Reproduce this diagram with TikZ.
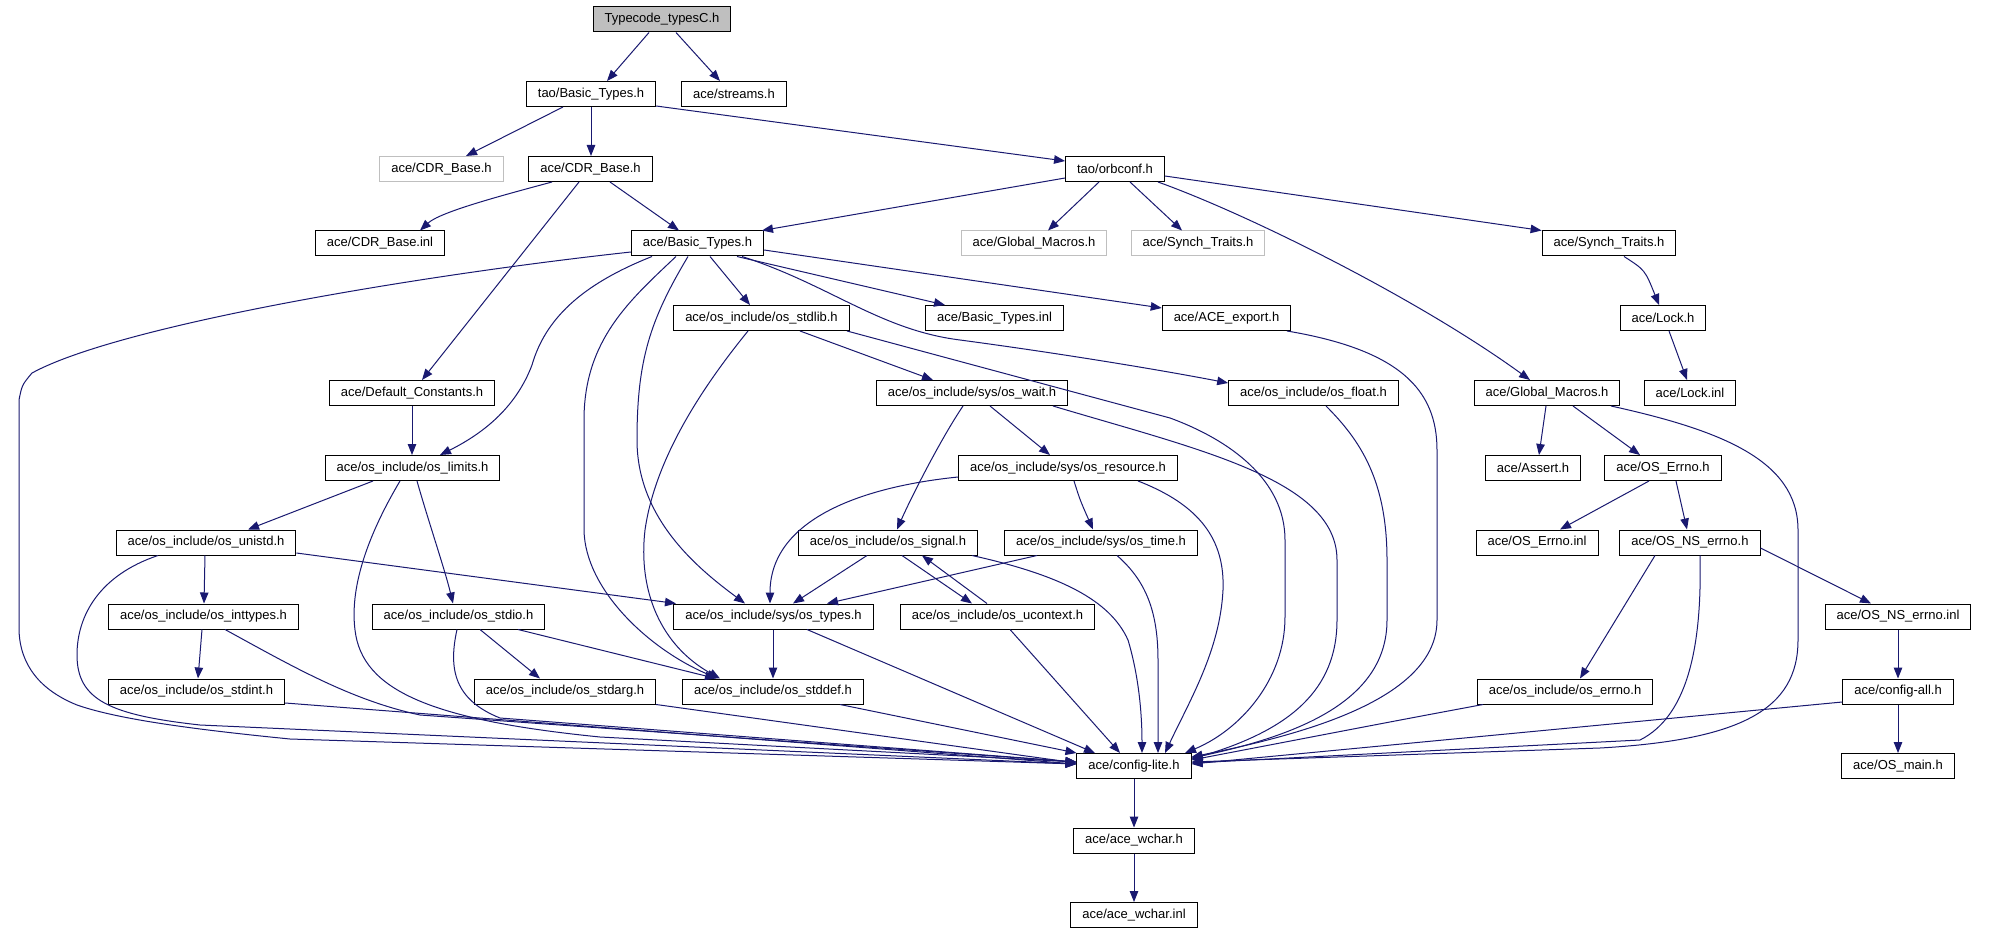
\documentclass[tikz,border=0pt]{standalone}
\usepackage{fontspec}
\setmainfont{Liberation Sans}
\usetikzlibrary{arrows.meta}
\definecolor{edgec}{HTML}{191970}
\definecolor{grayc}{HTML}{BFBFBF}
\begin{document}
\begin{tikzpicture}[x=1pt,y=-1pt,
  box/.style={draw=black,line width=1pt,inner xsep=11.5pt,inner ysep=0pt,minimum height=25pt,font=\fontsize{13}{15}\selectfont,anchor=center},
  gbox/.style={box,draw=grayc},
  rootbox/.style={box,fill=grayc},
  e/.style={draw=edgec,line width=1pt,-{Triangle[length=11pt,width=8.5pt]}}]
\useasboundingbox[fill=white] (0,0) rectangle (1989,933);
% row 0
\node[rootbox] (top) at (662,19.5) {Typecode\_typesC.h};
% row 1
\node[box] (taoBT) at (591,94) {tao/Basic\_Types.h};
\node[box] (streams) at (734,94) {ace/streams.h};
% row 2
\node[gbox] (cdrG) at (441.5,169) {ace/CDR\_Base.h};
\node[box] (cdr) at (590.5,169) {ace/CDR\_Base.h};
\node[box] (orb) at (1115,169) {tao/orbconf.h};
% row 3
\node[box] (cdrinl) at (380,243.5) {ace/CDR\_Base.inl};
\node[box] (bt) at (697.5,243.5) {ace/Basic\_Types.h};
\node[gbox] (gmG) at (1034,243.5) {ace/Global\_Macros.h};
\node[gbox] (stG) at (1198,243.5) {ace/Synch\_Traits.h};
\node[box] (st) at (1609,243.5) {ace/Synch\_Traits.h};
% row 4
\node[box] (stdlib) at (761.5,318) {ace/os\_include/os\_stdlib.h};
\node[box] (btinl) at (994.5,318) {ace/Basic\_Types.inl};
\node[box] (export) at (1226.5,318) {ace/ACE\_export.h};
\node[box] (lock) at (1663,318) {ace/Lock.h};
% row 5
\node[box] (defc) at (412,393) {ace/Default\_Constants.h};
\node[box] (wait) at (972,393) {ace/os\_include/sys/os\_wait.h};
\node[box] (float) at (1313.5,393) {ace/os\_include/os\_float.h};
\node[box] (gm) at (1547,393) {ace/Global\_Macros.h};
\node[box] (lockinl) at (1690,393) {ace/Lock.inl};
% row 6
\node[box] (limits) at (412.5,468) {ace/os\_include/os\_limits.h};
\node[box] (resource) at (1068,468) {ace/os\_include/sys/os\_resource.h};
\node[box] (assert) at (1533,468) {ace/Assert.h};
\node[box] (errno) at (1663,468) {ace/OS\_Errno.h};
% row 7
\node[box] (unistd) at (206,542.5) {ace/os\_include/os\_unistd.h};
\node[box] (signal) at (888,542.5) {ace/os\_include/os\_signal.h};
\node[box] (time) at (1101,542.5) {ace/os\_include/sys/os\_time.h};
\node[box] (errnoinl) at (1537,542.5) {ace/OS\_Errno.inl};
\node[box] (nserrno) at (1690,542.5) {ace/OS\_NS\_errno.h};
% row 8
\node[box] (inttypes) at (203.5,616.5) {ace/os\_include/os\_inttypes.h};
\node[box] (stdio) at (458.5,616.5) {ace/os\_include/os\_stdio.h};
\node[box] (types) at (773.5,616.5) {ace/os\_include/sys/os\_types.h};
\node[box] (ucontext) at (997.5,616.5) {ace/os\_include/os\_ucontext.h};
\node[box] (nserrnoinl) at (1898,616.5) {ace/OS\_NS\_errno.inl};
% row 9
\node[box] (stdint) at (196.5,691.5) {ace/os\_include/os\_stdint.h};
\node[box] (stdarg) at (565,691.5) {ace/os\_include/os\_stdarg.h};
\node[box] (stddef) at (773,691.5) {ace/os\_include/os\_stddef.h};
\node[box] (oserrno) at (1565,691.5) {ace/os\_include/os\_errno.h};
\node[box] (configall) at (1898,691.5) {ace/config-all.h};
% row 10
\node[box] (lite) at (1134,766) {ace/config-lite.h};
\node[box] (osmain) at (1898,766) {ace/OS\_main.h};
% row 11, 12
\node[box] (wchar) at (1134,840.5) {ace/ace\_wchar.h};
\node[box] (wcharinl) at (1134,915) {ace/ace\_wchar.inl};

% ---- edges ----
\draw[e] (top.south -| 649,0) -- (taoBT.north -| 607,0);
\draw[e] (top.south -| 676,0) -- (streams.north -| 720,0);
\draw[e] (taoBT.south -| 563,0) -- (cdrG.north -| 466,0);
\draw[e] (taoBT.south -| 591,0) -- (cdr.north -| 591,0);
\draw[e] (taoBT.east |- 0,106) -- (orb.west |- 0,161);
\draw[e] (cdr.south -| 552,0) .. controls (500,196) and (440,212) .. (cdrinl.north -| 420,0);
\draw[e] (cdr.south -| 610,0) -- (bt.north -| 679,0);
\draw[e] (cdr.south -| 579,0) -- (defc.north -| 422,0);
\draw[e] (orb.west |- 0,178) -- (bt.north -| 762,0);
\draw[e] (orb.south -| 1099,0) -- (gmG.north -| 1048,0);
\draw[e] (orb.south -| 1130,0) -- (stG.north -| 1182,0);
\draw[e] (orb.east |- 0,176) -- (st.north west);
\draw[e] (orb.south -| 1158,0) .. controls (1250,215) and (1420,300) .. (gm.north -| 1530,0);
% Basic_Types
\draw[e] (bt.west |- 0,252) .. controls (420,275) and (120,325) .. (32,373)
   .. controls (22,385) .. (19,400) -- (19,630)
   .. controls (20,665) and (40,690) .. (77,705)
   .. controls (120,720) and (200,730) .. (290,739) -- (lite.west |- 0,764);
\draw[e] (bt.south -| 652,0) .. controls (580,285) and (545,320) .. (532,365)
   .. controls (515,410) and (480,435) .. (limits.north -| 440,0);
\draw[e] (bt.south -| 676,0) .. controls (630,300) and (584,340) .. (584,420) -- (584,530)
   .. controls (585,590) and (650,650) .. (stddef.north -| 718,0);
\draw[e] (bt.south -| 688,0) .. controls (650,320) and (637,360) .. (637,440)
   .. controls (637,520) and (700,570) .. (types.north -| 745,0);
\draw[e] (bt.south -| 710,0) -- (stdlib.north -| 750,0);
\draw[e] (bt.south -| 737,0) -- (btinl.north -| 945,0);
\draw[e] (bt.east |- 0,250) -- (export.west |- 0,308);
\draw[e] (bt.south -| 742,0) .. controls (830,285) and (880,330) .. (960,340)
   .. controls (1050,352) and (1150,368) .. (float.west |- 0,383);
% os_stdlib
\draw[e] (stdlib.south -| 748,0) .. controls (700,390) and (655,460) .. (645,530)
   .. controls (638,590) and (660,645) .. (stddef.north -| 720,0);
\draw[e] (stdlib.south -| 800,0) -- (wait.north -| 933,0);
\draw[e] (stdlib.south -| 847,0) -- (1170,418) .. controls (1230,440) and (1285,480) .. (1285,540)
   -- (1285,617) .. controls (1285,680) and (1240,730) .. (lite.north -| 1185,0);
% right side into config-lite
\draw[e] (export.south -| 1287,0) .. controls (1400,350) and (1437,390) .. (1437,450) -- (1437,620)
   .. controls (1437,700) and (1300,735) .. (lite.east |- 0,757);
\draw[e] (float.south -| 1326,0) .. controls (1360,440) and (1387,480) .. (1387,560) -- (1387,620)
   .. controls (1387,700) and (1300,735) .. (lite.east |- 0,758);
\draw[e] (wait.south -| 1053,0) .. controls (1200,450) and (1337,480) .. (1337,560) -- (1337,620)
   .. controls (1337,690) and (1290,730) .. (lite.east |- 0,759);
\draw[e] (resource.south -| 1138,0) .. controls (1200,505) and (1225,540) .. (1223,590)
   .. controls (1220,650) and (1190,700) .. (lite.north -| 1165,0);
\draw[e] (gm.south -| 1611,0) .. controls (1720,430) and (1798,460) .. (1798,530) -- (1798,640)
   .. controls (1798,710) and (1740,740) .. (1600,748) -- (lite.east |- 0,762);
\draw[e] (nserrno.south -| 1700,0) .. controls (1702,640) and (1690,715) .. (1640,740)
   -- (lite.east |- 0,763);
\draw[e] (oserrno.south -| 1483,0) .. controls (1400,720) .. (lite.east |- 0,760);
\draw[e] (configall.west |- 0,702) -- (lite.east |- 0,764);
\draw[e] (configall) -- (osmain);
\draw[e] (lite) -- (wchar);
\draw[e] (wchar) -- (wcharinl);
% Synch / Lock
\draw[e] (st.south -| 1624,0) .. controls (1645,270) .. (lock.north -| 1659,0);
\draw[e] (lock.south -| 1669,0) -- (lockinl.north -| 1687,0);
% Default constants
\draw[e] (defc.south -| 412,0) -- (limits.north -| 412,0);
% os_wait
\draw[e] (wait.south -| 990,0) -- (resource.north -| 1050,0);
\draw[e] (wait.south -| 963,0) .. controls (940,440) and (910,500) .. (signal.north -| 897,0);
% Global_Macros
\draw[e] (gm.south -| 1546,0) -- (assert.north -| 1539,0);
\draw[e] (gm.south -| 1573,0) -- (errno.north -| 1640,0);
% os_limits
\draw[e] (limits.south -| 373,0) -- (unistd.north -| 248,0);
\draw[e] (limits.south -| 417,0) .. controls (428,520) and (445,570) .. (stdio.north -| 453,0);
\draw[e] (limits.south -| 400,0) .. controls (365,540) and (350,590) .. (355,630)
   .. controls (362,690) and (430,720) .. (600,737) -- (lite.west |- 0,762);
% os_resource
\draw[e] (resource.south -| 1074,0) .. controls (1080,500) .. (time.north -| 1093,0);
\draw[e] (resource.west |- 0,477) .. controls (860,487) and (770,520) .. (types.north -| 770,0);
% os_unistd
\draw[e] (unistd.south -| 205,0) -- (inttypes.north -| 204,0);
\draw[e] (unistd.east |- 0,553) -- (types.north -| 676,0);
\draw[e] (unistd.south -| 158,0) .. controls (100,575) and (77,615) .. (77,655)
   .. controls (77,700) and (110,715) .. (200,725) -- (lite.west |- 0,764);
% os_inttypes
\draw[e] (inttypes.south -| 202,0) -- (stdint.north -| 198,0);
\draw[e] (inttypes.south -| 225,0) .. controls (290,665) and (350,700) .. (420,715) -- (lite.west |- 0,762);
% os_stdio
\draw[e] (stdio.south -| 480,0) -- (stdarg.north -| 540,0);
\draw[e] (stdio.south -| 518,0) -- (stddef.north -| 716,0);
\draw[e] (stdio.south -| 457,0) .. controls (448,670) and (455,700) .. (500,718) -- (lite.west |- 0,762);
% os_signal
\draw[e] (signal.south -| 867,0) -- (types.north -| 793,0);
\draw[e] (signal.south -| 902,0) -- (ucontext.north -| 972,0);
\draw[e] (ucontext.north -| 987,0) -- (signal.south -| 922,0);
\draw[e] (signal.south -| 972,0) .. controls (1060,575) and (1110,600) .. (1128,640)
   .. controls (1140,680) and (1142,720) .. (lite.north -| 1142,0);
% os_time
\draw[e] (time.south -| 1037,0) -- (types.north -| 827,0);
\draw[e] (time.south -| 1117,0) .. controls (1145,580) and (1158,610) .. (1158,660) -- (lite.north -| 1158,0);
% os_types
\draw[e] (types.south -| 773,0) -- (stddef.north -| 773,0);
\draw[e] (types.south -| 807,0) -- (lite.north -| 1095,0);
% os_ucontext
\draw[e] (ucontext.south -| 1010,0) -- (lite.north -| 1120,0);
% errno family
\draw[e] (nserrno.south -| 1655,0) -- (oserrno.north -| 1580,0);
\draw[e] (nserrno.east |- 0,548) -- (nserrnoinl.north -| 1871,0);
\draw[e] (errno.south -| 1649,0) -- (errnoinl.north -| 1560,0);
\draw[e] (errno.south -| 1676,0) -- (nserrno.north -| 1687,0);
\draw[e] (nserrnoinl) -- (configall);
% bottom row into config-lite
\draw[e] (stdint.east |- 0,703) -- (lite.west |- 0,764);
\draw[e] (stdarg.south east) -- (lite.west |- 0,763);
\draw[e] (stddef.south -| 840,0) -- (lite.north west);
\end{tikzpicture}
\end{document}
